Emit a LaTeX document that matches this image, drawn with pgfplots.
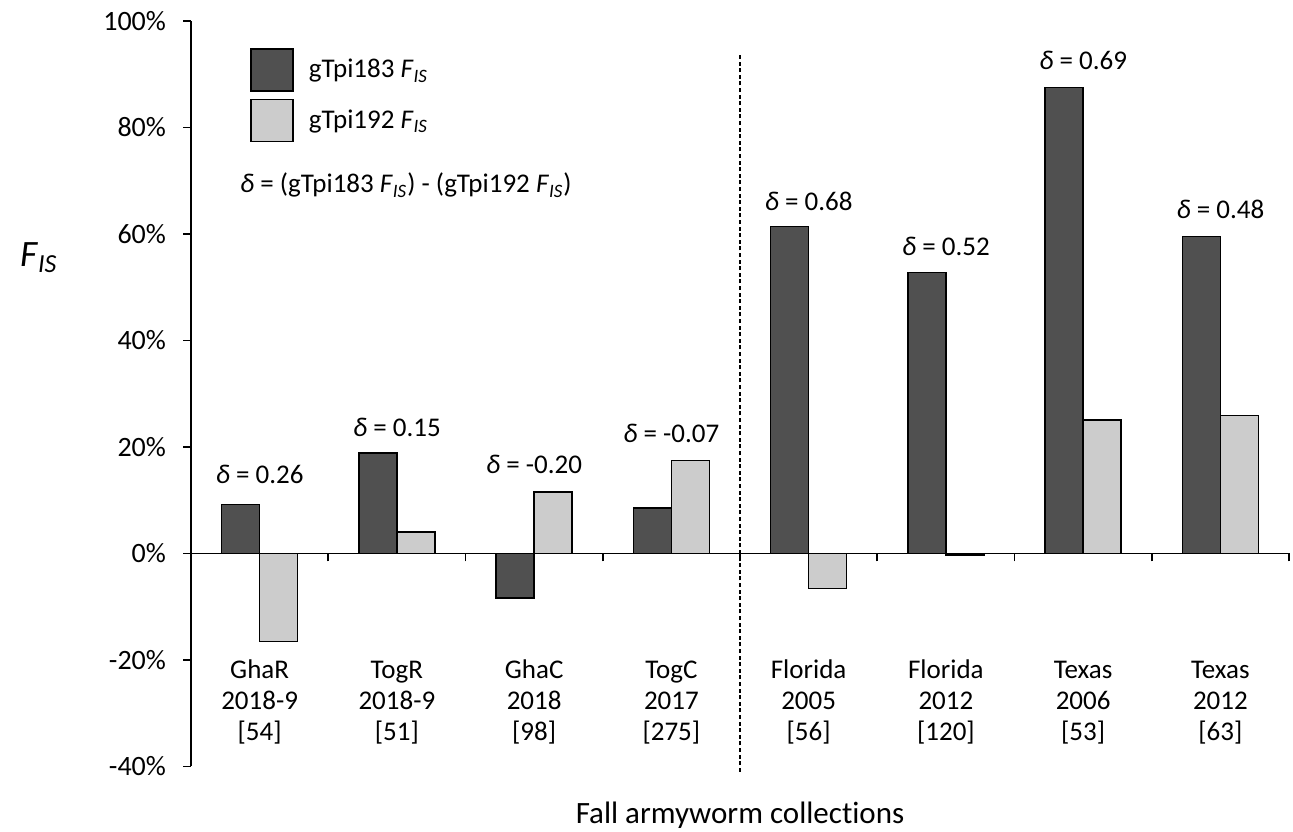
\documentclass[border=0pt]{standalone}
\usepackage{pgfplots}
\pgfplotsset{compat=1.18}
\usepackage{fontspec}
\setmainfont{Carlito}[Ligatures={NoCommon,TeX}]
\definecolor{darkbar}{RGB}{80,80,80}
\definecolor{lightbar}{RGB}{204,204,204}
\newcommand{\FIS}{\textit{F}\textsubscript{\textit{IS}}}
\newcommand{\dl}{\textit{δ}}
\begin{document}
\begin{tikzpicture}[font=\fontsize{13.5}{15.5}\selectfont]
\begin{axis}[
  width=549pt, height=372.75pt, scale only axis,
  xmin=-0.5, xmax=7.5, ymin=-40, ymax=100,
  axis x line*=middle, axis y line*=left,
  hide obscured x ticks=false, hide obscured y ticks=false,
  axis line style={line width=0.9pt, black},
  xtick={0.5,1.5,2.5,3.5,4.5,5.5,6.5,7.5}, xticklabels={},
  ytick={-40,-20,0,20,40,60,80,100},
  yticklabels={-40\%,-20\%,0\%,20\%,40\%,60\%,80\%,100\%},
  tick align=outside, major tick length=4pt,
  tick style={line width=0.9pt, black},
  yticklabel style={font=\fontsize{14}{16}\selectfont, xshift=-5pt},
  /pgf/number format/assume math mode=true,
  clip=false,
  legend style={at={(axis description cs:0.0537,0.9638)}, anchor=north west,
    draw=none, fill=none, inner sep=0pt, row sep=3.5pt,
    nodes={inner sep=0pt}, cells={anchor=west},
    font=\fontsize{13.5}{15.5}\selectfont,
    /tikz/every odd column/.append style={column sep=7.5pt}},
  legend image code/.code={\draw[#1, line width=0.75pt] (0pt,-10.5pt) rectangle (21pt,10.5pt);},
]
\addplot[ybar, bar width=0.277, bar shift=-0.1385, fill=darkbar, draw=black, line width=0.8pt]
  coordinates {(0,9.2) (1,18.9) (2,-8.4) (3,8.5) (4,61.4) (5,52.8) (6,87.5) (7,59.5)};
\addlegendentry{gTpi183 \FIS}
\addplot[ybar, bar width=0.277, bar shift=0.1385, fill=lightbar, draw=black, line width=0.8pt]
  coordinates {(0,-16.5) (1,4.0) (2,11.6) (3,17.5) (4,-6.6) (5,-0.3) (6,25.1) (7,25.9)};
\addlegendentry{gTpi192 \FIS}

\draw[line width=0.9pt, dash pattern=on 2pt off 1.3pt] (axis cs:3.5,-41) -- (axis cs:3.5,93.6);

\node[anchor=base west] at (axis description cs:0.0383,0.7693) {\dl{} = (gTpi183 \FIS) - (gTpi192 \FIS)};

\node[anchor=base] at (axis cs:0,13.05) {\dl{} = 0.26};
\node[anchor=base] at (axis cs:1,21.9) {\dl{} = 0.15};
\node[anchor=base] at (axis cs:2,15.1) {\dl{} = -0.20};
\node[anchor=base] at (axis cs:3,20.75) {\dl{} = -0.07};
\node[anchor=base] at (axis cs:4,64.5) {\dl{} = 0.68};
\node[anchor=base] at (axis cs:5,55.9) {\dl{} = 0.52};
\node[anchor=base] at (axis cs:6,90.8) {\dl{} = 0.69};
\node[anchor=base] at (axis cs:7,63.0) {\dl{} = 0.48};

\node[anchor=base] at (axis cs:0,-23.4) {\begin{tabular}[t]{@{}c@{}}GhaR\\2018-9\\{[54]}\end{tabular}};
\node[anchor=base] at (axis cs:1,-23.4) {\begin{tabular}[t]{@{}c@{}}TogR\\2018-9\\{[51]}\end{tabular}};
\node[anchor=base] at (axis cs:2,-23.4) {\begin{tabular}[t]{@{}c@{}}GhaC\\2018\\{[98]}\end{tabular}};
\node[anchor=base] at (axis cs:3,-23.4) {\begin{tabular}[t]{@{}c@{}}TogC\\2017\\{[275]}\end{tabular}};
\node[anchor=base] at (axis cs:4,-23.4) {\begin{tabular}[t]{@{}c@{}}Florida\\2005\\{[56]}\end{tabular}};
\node[anchor=base] at (axis cs:5,-23.4) {\begin{tabular}[t]{@{}c@{}}Florida\\2012\\{[120]}\end{tabular}};
\node[anchor=base] at (axis cs:6,-23.4) {\begin{tabular}[t]{@{}c@{}}Texas\\2006\\{[53]}\end{tabular}};
\node[anchor=base] at (axis cs:7,-23.4) {\begin{tabular}[t]{@{}c@{}}Texas\\2012\\{[63]}\end{tabular}};

\coordinate (ll) at (rel axis cs:0,0);
\coordinate (ur) at (rel axis cs:1,1);
\coordinate (bc) at (rel axis cs:0.5,0);
\end{axis}
\node[anchor=base west, font=\fontsize{18.6}{22}\selectfont] at ([xshift=-89pt,yshift=249.75pt]ll) {\FIS};
\node[anchor=base, font=\fontsize{15.5}{18}\selectfont] at ([yshift=-28.5pt]bc) {Fall armyworm collections};
\pgfresetboundingbox
\path ([xshift=-95.5pt,yshift=-32.75pt]ll) rectangle ([xshift=2pt,yshift=10.5pt]ur);
\end{tikzpicture}
\end{document}
